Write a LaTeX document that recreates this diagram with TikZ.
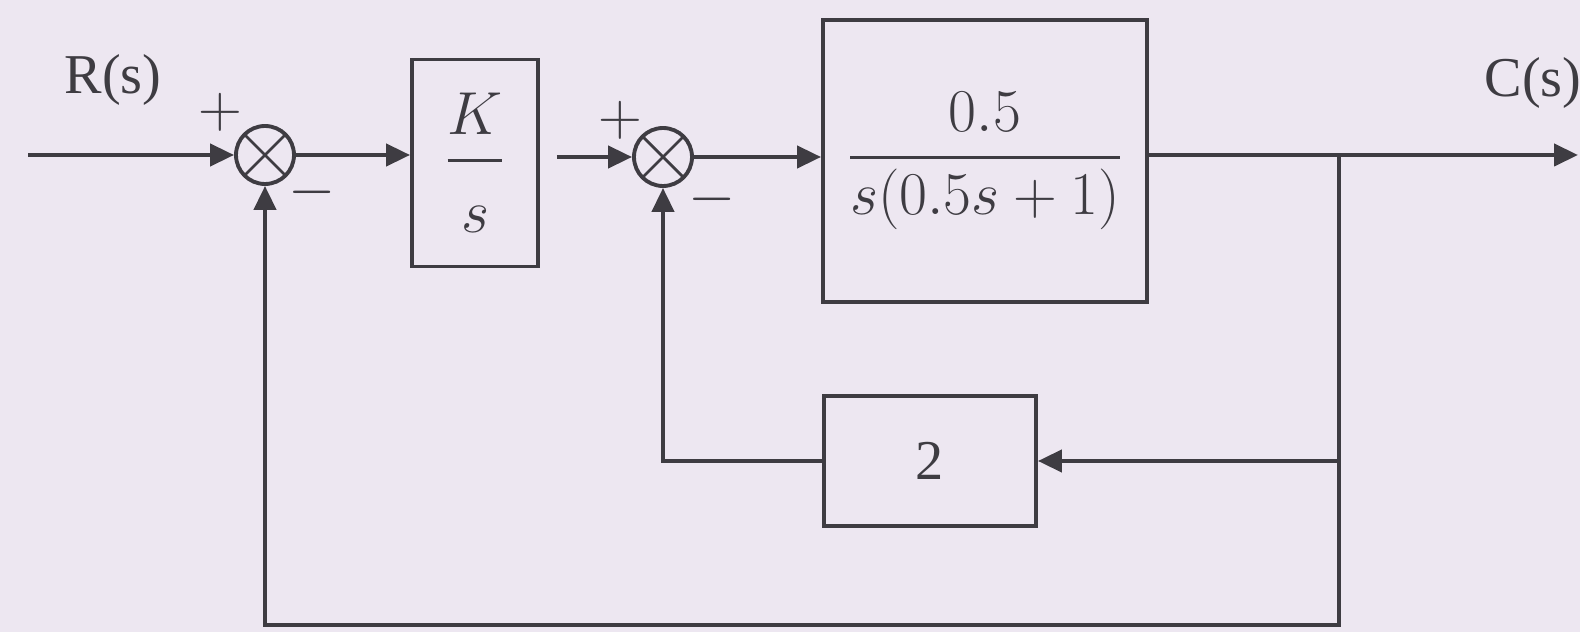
\documentclass[tikz,border=0pt]{standalone}
\usepackage{amsmath}
\usepackage{fontspec}
\setmainfont{Liberation Serif}
\usetikzlibrary{arrows.meta}
\definecolor{paper}{RGB}{237,231,241}
\definecolor{ink}{RGB}{62,60,66}

\begin{document}
\begin{tikzpicture}[x=0.1mm, y=-0.1mm,
  every node/.style={font=\fontsize{16}{19}\selectfont, text=ink},
  blk/.style={draw=ink, line width=1.1pt, inner sep=0pt},
  sumj/.style={draw=ink, line width=1.1pt, circle, minimum size=5.8mm, inner sep=0pt,
    path picture={\draw[ink, line width=0.8pt]
      (path picture bounding box.north west) -- (path picture bounding box.south east)
      (path picture bounding box.north east) -- (path picture bounding box.south west);}},
  wire/.style={draw=ink, line width=1.2pt},
  sig/.style={wire, -{Triangle[length=2.4mm, width=2.2mm]}}]
  \fill[paper] (0,0) rectangle (1580,632);
  \useasboundingbox (0,0) rectangle (1580,632);
  \node (Rs) at (113,80) {R(s)};
  \node (Cs) at (1533,83) {C(s)};
  \coordinate (in) at (28,155);
  \node[sumj] (s1) at (265,155) {};
  \node (p1) at (220,112) {$+$};
  \node (m1) at (312,192) {$-$};
  \node[blk, minimum width=12.6mm, minimum height=20.7mm, font=\fontsize{18}{21}\selectfont] (K) at (475,163)
    {$\dfrac{K}{\rule{0pt}{2.2ex}s}$};
  \node[sumj] (s2) at (663,157) {};
  \node (p2) at (620,120) {$+$};
  \node (m2) at (712,199) {$-$};
  \node[blk, minimum width=32.4mm, minimum height=28.2mm] (G) at (985,161)
    {$\dfrac{0.5}{s(0.5s+1)}$};
  \node[blk, minimum width=21.2mm, minimum height=13mm] (H) at (930,461) {2};
  \coordinate (br) at (1339,155);
  \coordinate (out) at (1578,155);
  \coordinate (bot) at (1339,625);
  \draw[sig] (in) -- (s1.west);
  \draw[sig] (s1.east) -- (s1.east -| K.west);
  \draw[sig, shorten <=1.7mm] (K.east |- s2) -- (s2.west);
  \draw[sig] (s2.east) -- (s2.east -| G.west);
  \draw[sig] (G.east |- out) -- (out);
  \draw[sig] (br) -- (bot) -| (s1.south);
  \draw[sig] (br |- H) -- (H.east);
  \draw[sig] (H.west) -| (s2.south);
\end{tikzpicture}
\end{document}
